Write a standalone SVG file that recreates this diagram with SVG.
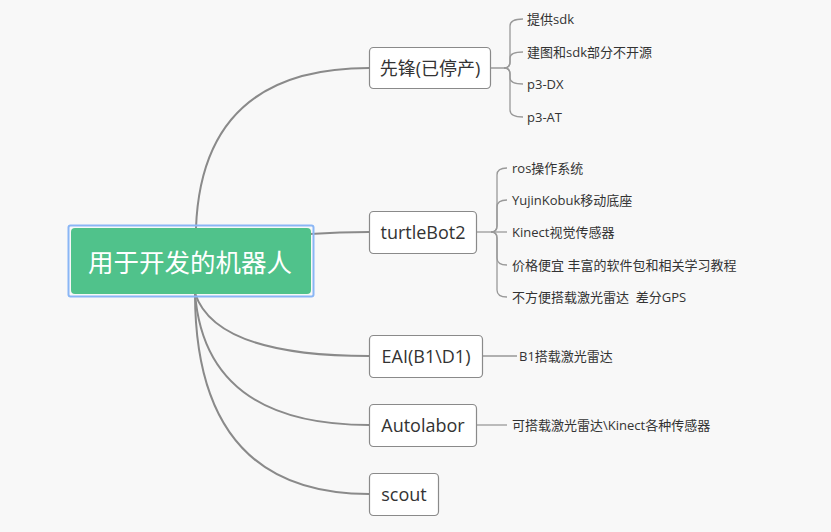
<svg xmlns="http://www.w3.org/2000/svg" width="831" height="532" viewBox="0 0 831 532">
<style>
.bg{fill:#f8f8f8}
.node rect{fill:#ffffff;stroke:#8a8a8a;stroke-width:1.2}
.node text{font-family:"Open Sans","Noto Sans CJK SC",sans-serif;font-size:18px;fill:#333;dominant-baseline:central}
.leaf text{font-family:"Open Sans","Noto Sans CJK SC",sans-serif;font-size:13px;fill:#333;dominant-baseline:central;white-space:pre}
.conn path{fill:none;stroke:#8a8a8a;stroke-width:2}
.sub path{fill:none;stroke:#999;stroke-width:1.3}
</style>
<rect class="bg" x="0" y="0" width="831" height="532"/>
<g class="conn" id="connectors">
<path d="M196 228 Q202 68 369 68"/>
<path d="M310 234 Q340 232 369 232"/>
<path d="M195 293 Q215 356 369 356"/>
<path d="M195 293 Q205 425 369 425"/>
<path d="M195 293 Q195 494 369 494"/>
</g>
<g class="sub" id="sub-connectors">
<path d="M490 68 H504 Q510 68 510 62 V26 Q510 19 523 19"/>
<path d="M504 68 Q510 68 510 62 V58 Q510 52 523 52"/>
<path d="M504 68 Q510 68 510 74 V78 Q510 84 523 84"/>
<path d="M504 68 Q510 68 510 74 V110 Q510 117 523 117"/>
<path d="M476 232 H507"/>
<path d="M491 232 Q497 232 497 226 V175 Q497 168 507 168"/>
<path d="M491 232 Q497 232 497 226 V207 Q497 200 507 200"/>
<path d="M491 232 Q497 232 497 238 V258 Q497 265 507 265"/>
<path d="M491 232 Q497 232 497 238 V290 Q497 297 507 297"/>
<path d="M482 356 H517"/>
<path d="M476 425 H507"/>
</g>
<g id="root">
<rect x="68.5" y="225.5" width="245" height="71" rx="2" fill="none" stroke="#8ab6f5" stroke-width="2"/>
<rect x="71" y="228" width="240" height="66" rx="4" fill="#50c28b"/>
<text x="190" y="262" text-anchor="middle" font-family="'Open Sans','Noto Sans CJK SC',sans-serif" font-size="25.5" fill="#ffffff" dominant-baseline="central">用于开发的机器人</text>
</g>
<g class="node" id="n-xianfeng"><rect x="369.5" y="47.5" width="121" height="41" rx="4"/><text x="430" y="68" text-anchor="middle">先锋(已停产)</text></g>
<g class="node" id="n-turtlebot"><rect x="369.5" y="211.5" width="107" height="42" rx="4"/><text x="423" y="232" text-anchor="middle">turtleBot2</text></g>
<g class="node" id="n-eai"><rect x="369.5" y="335.5" width="113" height="42" rx="4"/><text x="426" y="356" text-anchor="middle">EAI(B1\D1)</text></g>
<g class="node" id="n-autolabor"><rect x="369.5" y="404.5" width="107" height="42" rx="4"/><text x="423" y="425" text-anchor="middle">Autolabor</text></g>
<g class="node" id="n-scout"><rect x="369.5" y="473.5" width="69" height="42" rx="4"/><text x="404" y="494" text-anchor="middle">scout</text></g>
<g class="leaf" id="leaves-xianfeng">
<text x="527" y="19">提供sdk</text>
<text x="527" y="52">建图和sdk部分不开源</text>
<text x="527" y="84">p3-DX</text>
<text x="527" y="117">p3-AT</text>
</g>
<g class="leaf" id="leaves-turtlebot">
<text x="512" y="168">ros操作系统</text>
<text x="512" y="200">YujinKobuk移动底座</text>
<text x="512" y="232">Kinect视觉传感器</text>
<text x="512" y="265">价格便宜 丰富的软件包和相关学习教程</text>
<text x="512" y="297" xml:space="preserve">不方便搭载激光雷达  差分GPS</text>
</g>
<g class="leaf" id="leaf-eai"><text x="519" y="356">B1搭载激光雷达</text></g>
<g class="leaf" id="leaf-autolabor"><text x="512" y="425">可搭载激光雷达\Kinect各种传感器</text></g>
</svg>
